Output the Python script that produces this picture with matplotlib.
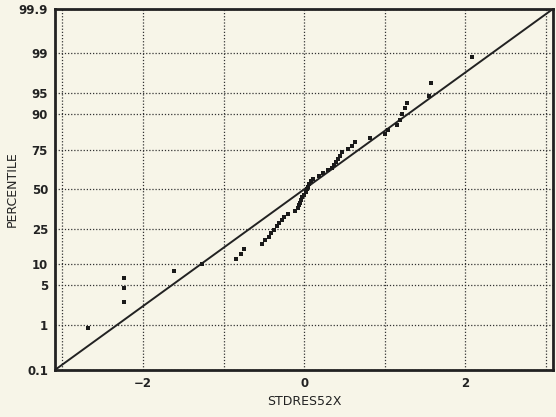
import numpy as np
import matplotlib
matplotlib.use('Agg')
import matplotlib.pyplot as plt
from statistics import NormalDist

# residuals, with their plotted percentiles
resid = [-2.68, -2.23, -2.23, -2.23, -1.61, -1.27, -0.85, -0.78, -0.75, -0.52,
         -0.48, -0.44, -0.41, -0.37, -0.34, -0.31, -0.28, -0.25, -0.20, -0.11,
         -0.07, -0.06, -0.05, -0.04, -0.03, 0.00, 0.02, 0.03, 0.05, 0.06,
         0.09, 0.11, 0.18, 0.23, 0.30, 0.34, 0.37, 0.39, 0.42, 0.45,
         0.47, 0.55, 0.60, 0.63, 0.82, 1.00, 1.04, 1.15, 1.19, 1.22,
         1.25, 1.28, 1.55, 1.57, 2.08]
pct = [0.9, 2.7, 4.5, 6.4, 8.2, 10.0, 11.8, 13.6, 15.5, 17.3,
       19.1, 20.9, 22.7, 24.5, 26.4, 28.2, 30.0, 31.8, 33.6, 35.5,
       37.3, 39.1, 40.9, 42.7, 44.5, 46.4, 48.2, 50.0, 51.8, 53.6,
       55.5, 57.3, 59.1, 60.9, 62.7, 64.5, 66.4, 68.2, 70.0, 71.8,
       73.6, 75.5, 77.3, 79.1, 80.9, 82.7, 84.5, 86.4, 88.2, 90.0,
       91.8, 93.0, 94.5, 96.6, 98.8]

line_x = [-3.09, 3.09]
line_p = [0.1, 99.9]

yticks = [0.1, 1, 5, 10, 25, 50, 75, 90, 95, 99, 99.9]
ylabels = ['0.1', '1', '5', '10', '25', '50', '75', '90', '95', '99', '99.9']

nd = NormalDist()
_ppf = np.vectorize(lambda v: nd.inv_cdf(v / 100.0), otypes=[float])
_cdf = np.vectorize(lambda v: nd.cdf(v) * 100.0, otypes=[float])


def fwd(p):
    p = np.clip(np.asarray(p, dtype=float), 1e-7, 100 - 1e-7)
    return _ppf(p)


def inv(z):
    return _cdf(np.asarray(z, dtype=float))


bg = '#f7f5e8'
fig = plt.figure(figsize=(5.56, 4.17), dpi=100, facecolor=bg)
ax = fig.add_axes([0.099, 0.113, 0.896, 0.866], facecolor=bg)
ax.set_yscale('function', functions=(fwd, inv))

ax.plot(line_x, line_p, color='#222222', lw=1.4, zorder=3)
ax.scatter(resid, pct, s=9, marker='s', color='#1a1a1a', zorder=4, linewidths=0)

ax.set_xlim(-3.09, 3.09)
ax.set_ylim(0.1, 99.9)
ax.set_xticks([-2, 0, 2])
ax.set_xticklabels(['\u22122', '0', '2'])
ax.set_xticks([-3, -1, 1, 3], minor=True)
ax.set_yticks(yticks)
ax.set_yticklabels(ylabels)
ax.yaxis.set_minor_locator(matplotlib.ticker.NullLocator())
ax.tick_params(which='both', length=0, labelsize=8.5, pad=5)
for lab in ax.get_xticklabels() + ax.get_yticklabels():
    lab.set_fontweight('bold')
    lab.set_color('#222222')

ax.grid(True, which='both', color='#333333', linestyle=(0, (1, 1.5)), linewidth=0.9)
for s in ax.spines.values():
    s.set_linewidth(2.0)
    s.set_color('#222222')

ax.set_xlabel('STDRES52X', fontsize=9, labelpad=4, color='#222222')
ax.set_ylabel('PERCENTILE', fontsize=9, labelpad=0, color='#222222')

fig.savefig('out.png', dpi=100, facecolor=bg)
